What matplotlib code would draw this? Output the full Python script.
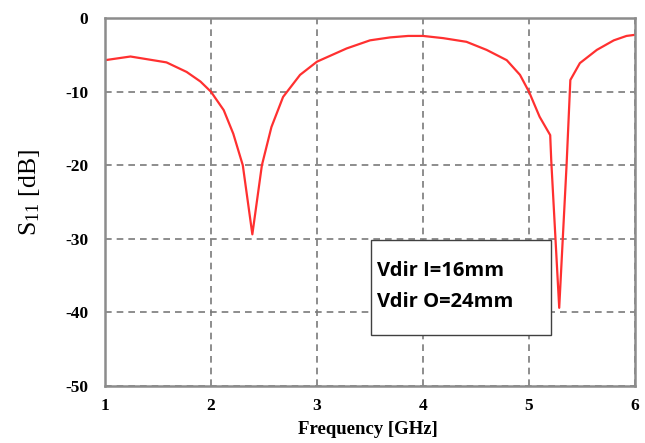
import matplotlib
matplotlib.use("Agg")
import matplotlib.pyplot as plt
from matplotlib.patches import Rectangle

plt.rcParams["mathtext.fontset"] = "custom"
plt.rcParams["mathtext.rm"] = "Liberation Serif"
plt.rcParams["mathtext.it"] = "Liberation Serif:italic"

freq = [1.00, 1.24, 1.58, 1.77, 1.90, 2.00, 2.12, 2.21, 2.30, 2.39, 2.48, 2.57,
        2.68, 2.84, 3.00, 3.28, 3.50, 3.69, 3.86, 4.00, 4.19, 4.41, 4.60, 4.79, 4.915, 5.00,
        5.10, 5.20, 5.21, 5.285, 5.355, 5.39, 5.48, 5.64, 5.80, 5.92, 6.00]
s11 = [-5.7, -5.2, -6.0, -7.3, -8.6, -10.0, -12.5, -15.7, -20.0, -29.4, -20.0, -14.8,
       -10.7, -7.7, -5.9, -4.1, -3.0, -2.6, -2.4, -2.4, -2.7, -3.2, -4.3, -5.7, -7.7, -10.0,
       -13.4, -15.9, -19.4, -39.4, -19.8, -8.4, -6.1, -4.3, -3.0, -2.4, -2.25]

xticks = [1, 2, 3, 4, 5, 6]
yticks = [0, -10, -20, -30, -40, -50]
legend_lines = ["Vdir I=16mm", "Vdir O=24mm"]

fig = plt.figure(figsize=(6.45, 4.43), dpi=100)
ax = fig.add_axes([0.1628, 0.1293, 0.8217, 0.8294])
ax.plot(freq, s11, color="#ff3030", lw=1.6)
ax.set_xlim(1, 6)
ax.set_ylim(-50, 0)
ax.set_xticks(xticks)
ax.set_yticks(yticks)
ax.set_xticklabels([str(t) for t in xticks], fontfamily="Liberation Serif",
                   fontweight="bold", fontsize=12.5)
ax.set_yticklabels([str(t) for t in yticks], fontfamily="Liberation Serif",
                   fontweight="bold", fontsize=12.5)
ax.tick_params(axis="x", length=0, pad=9)
ax.tick_params(axis="y", length=0, pad=12)
ax.grid(True, color="#7a7a7a", ls=(0, (4, 3)), lw=1.2)
for s in ax.spines.values():
    s.set_color("#8c8c8c")
    s.set_linewidth(1.8)

fig.text(29 / 645, 1 - 192.5 / 443, r"S$_{\mathrm{11}}$ [dB]", rotation=90,
         ha="center", va="center", fontfamily="Liberation Serif", fontsize=18.5)
fig.text(368 / 645, 1 - 430 / 443, "Frequency [GHz]", ha="center", va="center",
         fontfamily="Liberation Serif", fontweight="bold", fontsize=13.5)

ax.add_patch(Rectangle((0.501, 0.138), 0.3405, 0.2586, transform=ax.transAxes,
                       fc="white", ec="#404040", lw=1.0, zorder=5))
ax.text(0.513, 0.311, legend_lines[0], transform=ax.transAxes, ha="left", va="center",
        fontsize=14.5, fontweight="bold", fontfamily="Open Sans", zorder=6)
ax.text(0.513, 0.229, legend_lines[1], transform=ax.transAxes, ha="left", va="center",
        fontsize=14.5, fontweight="bold", fontfamily="Open Sans", zorder=6)

fig.savefig("out.png", dpi=100)
